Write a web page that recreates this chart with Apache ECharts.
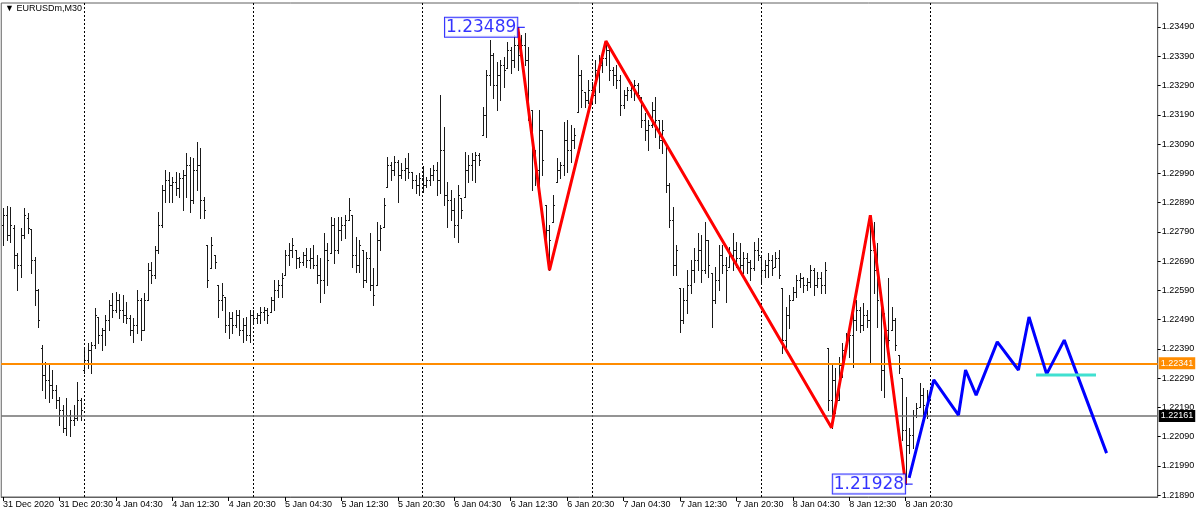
<!DOCTYPE html>
<html><head><meta charset="utf-8">
<script src="https://cdn.jsdelivr.net/npm/echarts@6/dist/echarts.min.js"></script>
<style>html,body{margin:0;padding:0;background:#fff}#c{width:1200px;height:516px}</style>
</head><body><div id="c"></div>
<script>
const chartTitle = '\u25BC EURUSDm,M30';
const sessionDays = ['31 Dec', '4 Jan', '5 Jan', '6 Jan', '7 Jan', '8 Jan', '9 Jan', '10 Jan'];
const firstHalfHourSlot = 25; // 31 Dec 12:30
const totalSlots = 328;
const xTickLabels = ['31 Dec 2020','31 Dec 20:30','4 Jan 04:30','4 Jan 12:30','4 Jan 20:30','5 Jan 04:30','5 Jan 12:30','5 Jan 20:30','6 Jan 04:30','6 Jan 12:30','6 Jan 20:30','7 Jan 04:30','7 Jan 12:30','7 Jan 20:30','8 Jan 04:30','8 Jan 12:30','8 Jan 20:30'];
const yTickValues = [1.21890,1.21990,1.22090,1.22190,1.22290,1.22390,1.22490,1.22590,1.22690,1.22790,1.22890,1.22990,1.23090,1.23190,1.23290,1.23390,1.23490];
const daySeparators = ['4 Jan 00:00','5 Jan 00:00','6 Jan 00:00','7 Jan 00:00','8 Jan 00:00','9 Jan 00:00'];

// OHLC [open, high, low, close]
const dec31 = [
[1.22813,1.22871,1.22745,1.22847],[1.22847,1.22878,1.22762,1.22779],[1.22779,1.22875,1.22755,1.22813],[1.22803,1.22813,1.22666,1.22711],
[1.22711,1.22718,1.22591,1.22677],[1.22677,1.22803,1.22636,1.22779],[1.22779,1.22871,1.22769,1.22847],[1.22837,1.22854,1.22786,1.22803],
[1.22800,1.22800,1.22649,1.22694],[1.22694,1.22704,1.22540,1.22591],[1.22591,1.22595,1.22465,1.22489],[1.22393,1.22403,1.22249,1.22301],
[1.22301,1.22345,1.22222,1.22284],[1.22284,1.22335,1.22208,1.22266],[1.22266,1.22318,1.22222,1.22249],[1.22249,1.22266,1.22188,1.22215],
[1.22215,1.22225,1.22130,1.22181],[1.22181,1.22198,1.22106,1.22120],[1.22120,1.22222,1.22096,1.22164],[1.22164,1.22181,1.22092,1.22147],
[1.22147,1.22198,1.22130,1.22154],[1.22154,1.22277,1.22147,1.22215],[1.22215,1.22222,1.22147,1.22181]
];
const jan4 = [
[1.22318,1.22396,1.22308,1.22352],[1.22352,1.22410,1.22325,1.22386],[1.22386,1.22413,1.22308,1.22403],[1.22403,1.22530,1.22393,1.22506],
[1.22499,1.22499,1.22410,1.22437],[1.22437,1.22461,1.22386,1.22454],[1.22454,1.22506,1.22403,1.22489],[1.22489,1.22557,1.22454,1.22540],
[1.22540,1.22581,1.22499,1.22523],[1.22523,1.22584,1.22516,1.22557],[1.22557,1.22577,1.22495,1.22523],[1.22523,1.22574,1.22482,1.22506],
[1.22506,1.22550,1.22478,1.22495],[1.22495,1.22506,1.22437,1.22454],[1.22454,1.22495,1.22413,1.22471],[1.22471,1.22591,1.22444,1.22557],
[1.22557,1.22564,1.22420,1.22454],[1.22454,1.22581,1.22454,1.22557],[1.22557,1.22683,1.22557,1.22659],[1.22659,1.22687,1.22615,1.22642],
[1.22642,1.22741,1.22632,1.22728],[1.22728,1.22858,1.22718,1.22813],[1.22813,1.22950,1.22806,1.22933],[1.22933,1.23001,1.22892,1.22967],
[1.22967,1.22994,1.22892,1.22950],[1.22950,1.22977,1.22892,1.22960],[1.22960,1.22994,1.22916,1.22940],[1.22940,1.22991,1.22909,1.22974],
[1.22974,1.23001,1.22864,1.22984],[1.22984,1.23059,1.22909,1.23018],[1.23018,1.23046,1.22858,1.22899],[1.22899,1.23042,1.22888,1.23001],
[1.23001,1.23097,1.22933,1.23018],[1.23018,1.23076,1.22837,1.22899],[1.22899,1.22909,1.22837,1.22864],[1.22745,1.22745,1.22601,1.22625],
[1.22666,1.22772,1.22666,1.22745],[1.22711,1.22711,1.22666,1.22687],[1.22608,1.22608,1.22499,1.22557],[1.22557,1.22615,1.22523,1.22574],
[1.22567,1.22567,1.22448,1.22471],[1.22471,1.22516,1.22427,1.22495],[1.22495,1.22516,1.22444,1.22471],[1.22471,1.22523,1.22465,1.22506],
[1.22506,1.22523,1.22437,1.22454],[1.22454,1.22495,1.22413,1.22471],[1.22471,1.22499,1.22420,1.22437],[1.22437,1.22523,1.22413,1.22506]
];
const jan5 = [
[1.22506,1.22523,1.22482,1.22495],[1.22495,1.22513,1.22478,1.22506],[1.22506,1.22533,1.22478,1.22516],[1.22516,1.22533,1.22489,1.22523],
[1.22523,1.22530,1.22478,1.22506],[1.22516,1.22567,1.22516,1.22557],[1.22557,1.22625,1.22523,1.22591],[1.22591,1.22625,1.22567,1.22608],
[1.22608,1.22649,1.22567,1.22632],[1.22642,1.22728,1.22642,1.22711],[1.22711,1.22752,1.22677,1.22728],[1.22728,1.22769,1.22704,1.22745],
[1.22728,1.22728,1.22666,1.22700],[1.22700,1.22704,1.22670,1.22687],[1.22687,1.22721,1.22677,1.22711],[1.22711,1.22735,1.22670,1.22694],
[1.22694,1.22735,1.22666,1.22700],[1.22700,1.22745,1.22666,1.22677],[1.22677,1.22711,1.22615,1.22642],[1.22642,1.22700,1.22550,1.22625],
[1.22625,1.22786,1.22581,1.22728],[1.22728,1.22752,1.22608,1.22694],[1.22718,1.22840,1.22718,1.22813],[1.22813,1.22837,1.22683,1.22728],
[1.22728,1.22840,1.22718,1.22796],[1.22796,1.22840,1.22762,1.22813],[1.22813,1.22847,1.22769,1.22830],[1.22830,1.22905,1.22830,1.22864],
[1.22847,1.22847,1.22670,1.22711],[1.22711,1.22772,1.22653,1.22677],[1.22677,1.22762,1.22653,1.22745],[1.22728,1.22728,1.22601,1.22625],
[1.22625,1.22721,1.22618,1.22700],[1.22700,1.22786,1.22591,1.22608],[1.22608,1.22666,1.22540,1.22574],[1.22608,1.22823,1.22608,1.22762],
[1.22762,1.22813,1.22728,1.22803],[1.22806,1.22905,1.22806,1.22882],[1.22943,1.23046,1.22943,1.23018],[1.23018,1.23028,1.22967,1.23001],
[1.23001,1.23049,1.22984,1.23028],[1.23028,1.23035,1.22892,1.22984],[1.22984,1.23025,1.22974,1.23001],[1.23001,1.23042,1.22967,1.23008],
[1.23008,1.23059,1.22974,1.22994],[1.22994,1.22994,1.22940,1.22967],[1.22967,1.22984,1.22923,1.22950],[1.22950,1.22991,1.22916,1.22974]
];
const jan6 = [
[1.22974,1.23015,1.22926,1.22950],[1.22950,1.22977,1.22943,1.22967],[1.22967,1.23008,1.22950,1.22984],[1.22984,1.23018,1.22967,1.23001],
[1.23001,1.23028,1.22916,1.22967],[1.22967,1.23257,1.22923,1.23069],[1.23069,1.23148,1.22882,1.22916],[1.22916,1.22960,1.22806,1.22899],
[1.22899,1.22933,1.22830,1.22864],[1.22864,1.22905,1.22772,1.22813],[1.22813,1.22950,1.22755,1.22916],[1.22905,1.22905,1.22837,1.22864],
[1.22909,1.23063,1.22909,1.23001],[1.23001,1.23052,1.22960,1.23018],[1.23018,1.23059,1.22967,1.23035],[1.23035,1.23063,1.22960,1.23052],
[1.23052,1.23059,1.23018,1.23035],[1.23121,1.23216,1.23121,1.23189],[1.23189,1.23343,1.23114,1.23326],[1.23326,1.23445,1.23292,1.23394],
[1.23394,1.23401,1.23247,1.23292],[1.23292,1.23370,1.23206,1.23326],[1.23326,1.23377,1.23240,1.23360],[1.23360,1.23387,1.23285,1.23343],
[1.23350,1.23439,1.23350,1.23411],[1.23411,1.23421,1.23333,1.23377],[1.23377,1.23462,1.23353,1.23428],[1.23428,1.23489,1.23343,1.23394],
[1.23394,1.23462,1.23394,1.23428],[1.23428,1.23469,1.23360,1.23377],[1.23377,1.23421,1.23172,1.23206],[1.23206,1.23206,1.22933,1.23069],
[1.23069,1.23069,1.22950,1.23001],[1.23001,1.23206,1.22933,1.23138],[1.23138,1.23138,1.22984,1.23035],[1.22882,1.22882,1.22745,1.22796],
[1.22796,1.22813,1.22659,1.22762],[1.22823,1.22916,1.22823,1.22882],[1.22960,1.23042,1.22960,1.23001],[1.23001,1.23028,1.22974,1.23018],
[1.23018,1.23165,1.22984,1.23104],[1.23104,1.23172,1.22994,1.23069],[1.23069,1.23155,1.23028,1.23104],[1.23104,1.23145,1.23076,1.23121],
[1.23199,1.23394,1.23199,1.23326],[1.23326,1.23343,1.23216,1.23275],[1.23268,1.23268,1.23216,1.23240],[1.23240,1.23309,1.23230,1.23275]
];
const jan7 = [
[1.23275,1.23302,1.23234,1.23257],[1.23257,1.23377,1.23230,1.23343],[1.23343,1.23394,1.23268,1.23360],[1.23360,1.23404,1.23336,1.23384],
[1.23384,1.23439,1.23360,1.23411],[1.23411,1.23421,1.23309,1.23343],[1.23343,1.23353,1.23292,1.23326],[1.23326,1.23360,1.23281,1.23309],
[1.23309,1.23326,1.23189,1.23223],[1.23223,1.23275,1.23213,1.23257],[1.23257,1.23285,1.23240,1.23275],[1.23275,1.23302,1.23251,1.23281],
[1.23281,1.23309,1.23240,1.23292],[1.23292,1.23298,1.23247,1.23257],[1.23251,1.23251,1.23148,1.23172],[1.23172,1.23196,1.23104,1.23138],
[1.23138,1.23172,1.23069,1.23155],[1.23155,1.23234,1.23148,1.23206],[1.23206,1.23251,1.23114,1.23172],[1.23172,1.23172,1.23076,1.23104],
[1.23104,1.23172,1.23059,1.23138],[1.23093,1.23093,1.22926,1.22950],[1.22950,1.22957,1.22806,1.22830],[1.22830,1.22875,1.22642,1.22677],
[1.22677,1.22745,1.22642,1.22728],[1.22598,1.22598,1.22448,1.22489],[1.22489,1.22598,1.22478,1.22557],[1.22557,1.22659,1.22513,1.22608],
[1.22608,1.22694,1.22581,1.22659],[1.22659,1.22735,1.22618,1.22694],[1.22694,1.22786,1.22659,1.22728],[1.22728,1.22779,1.22618,1.22659],
[1.22659,1.22823,1.22649,1.22762],[1.22762,1.22762,1.22636,1.22677],[1.22649,1.22649,1.22465,1.22557],[1.22557,1.22670,1.22547,1.22625],
[1.22625,1.22745,1.22591,1.22711],[1.22711,1.22745,1.22649,1.22677],[1.22677,1.22704,1.22550,1.22659],[1.22670,1.22738,1.22670,1.22711],
[1.22711,1.22786,1.22659,1.22728],[1.22728,1.22755,1.22670,1.22700],[1.22700,1.22752,1.22649,1.22677],[1.22677,1.22721,1.22649,1.22700],
[1.22700,1.22718,1.22649,1.22687],[1.22687,1.22694,1.22625,1.22666],[1.22666,1.22755,1.22659,1.22728],[1.22728,1.22769,1.22694,1.22711]
];
const jan8 = [
[1.22704,1.22704,1.22618,1.22659],[1.22659,1.22694,1.22636,1.22677],[1.22677,1.22718,1.22636,1.22694],[1.22694,1.22711,1.22642,1.22666],
[1.22670,1.22721,1.22670,1.22700],[1.22700,1.22728,1.22632,1.22642],[1.22598,1.22598,1.22376,1.22420],[1.22420,1.22533,1.22396,1.22506],
[1.22506,1.22574,1.22461,1.22557],[1.22557,1.22601,1.22557,1.22584],[1.22584,1.22642,1.22567,1.22625],[1.22625,1.22649,1.22601,1.22632],
[1.22632,1.22636,1.22584,1.22608],[1.22608,1.22632,1.22591,1.22618],[1.22618,1.22677,1.22601,1.22659],[1.22659,1.22666,1.22574,1.22608],
[1.22608,1.22653,1.22601,1.22632],[1.22632,1.22653,1.22581,1.22608],[1.22608,1.22687,1.22581,1.22659],[1.22393,1.22393,1.22181,1.22215],
[1.22215,1.22342,1.22121,1.22284],[1.22284,1.22325,1.22171,1.22215],[1.22215,1.22362,1.22215,1.22335],[1.22335,1.22410,1.22294,1.22386],
[1.22386,1.22444,1.22386,1.22420],[1.22420,1.22465,1.22362,1.22437],[1.22437,1.22513,1.22328,1.22489],[1.22489,1.22557,1.22454,1.22523],
[1.22523,1.22533,1.22448,1.22471],[1.22471,1.22547,1.22454,1.22506],[1.22506,1.22523,1.22465,1.22489],[1.22489,1.22847,1.22342,1.22728],
[1.22728,1.22823,1.22581,1.22659],[1.22659,1.22752,1.22465,1.22557],[1.22557,1.22557,1.22249,1.22318],[1.22318,1.22513,1.22225,1.22454],
[1.22454,1.22632,1.22362,1.22420],[1.22454,1.22533,1.22454,1.22489],[1.22489,1.22495,1.22386,1.22403],[1.22369,1.22369,1.22308,1.22325],
[1.22290,1.22290,1.22079,1.22113],[1.22113,1.22225,1.21928,1.22061],[1.22061,1.22120,1.22034,1.22096],[1.22096,1.22181,1.22051,1.22164],
[1.22164,1.22205,1.22157,1.22188],[1.22191,1.22273,1.22191,1.22232],[1.22232,1.22256,1.22157,1.22198],[1.22198,1.22249,1.22154,1.22161]
];

// annotations: [bar index, price]
const zigzagRed = [[146,1.23489],[155,1.22659],[171,1.23442],[235,1.22121],[246,1.22847],[256,1.21928]];
const projectionBlue = [[257,1.21949],[264,1.22284],[271,1.22164],[273,1.22318],[276,1.22232],[282,1.22414],[288,1.22318],[291,1.22499],[296,1.22304],[301,1.22420],[313,1.22034]];
const cyanLevel = [[293,1.22301],[310,1.22301]];
const priceLabels = [[146,1.23489],[256,1.21928]];
const orangeLevel = 1.22341;
const lastPrice = 1.22161;
const yMin = 1.21884, yMax = 1.23572;

// build categories (30-minute slots)
const categories = [];
let slot = firstHalfHourSlot;
let dayIdx = 0;
for (let i = 0; i < totalSlots; i++) {
  const h = Math.floor(slot / 2), m = slot % 2 ? '30' : '00';
  categories.push(sessionDays[dayIdx] + ' ' + String(h).padStart(2,'0') + ':' + m);
  slot++;
  if (slot >= 48) { slot = 0; dayIdx++; }
}
const bars = [].concat(dec31, jan4, jan5, jan6, jan7, jan8).map((b, i) => [i, b[0], b[1], b[2], b[3]]);

const font = 'Liberation Sans';
const tagLabel = (bg) => ({show: true, position: 'end', distance: 1, color: '#fff', backgroundColor: bg,
  padding: [2, 2, 1, 2], fontSize: 9, fontFamily: font});
const chart = echarts.init(document.getElementById('c'), null, {renderer: 'canvas'});
chart.setOption({
  animation: false,
  backgroundColor: '#fff',
  grid: {left: 1.2, right: 42.3, top: 3, bottom: 19, show: true, borderColor: '#606060', borderWidth: 1},
  graphic: [{type: 'text', left: 5, top: 4, style: {text: chartTitle, font: '9px "Liberation Sans"', fill: '#000'}}],
  xAxis: {
    type: 'category', data: categories, boundaryGap: true,
    axisLine: {show: true, lineStyle: {color: '#606060'}},
    axisTick: {show: true, alignWithLabel: true, length: 4, lineStyle: {color: '#000'},
      interval: (idx) => idx % 16 === 0 && idx / 16 < xTickLabels.length},
    axisLabel: {interval: (idx) => idx % 16 === 0 && idx / 16 < xTickLabels.length,
      showMinLabel: true,
      formatter: (v, idx) => xTickLabels[idx / 16] || '',
      align: 'left', margin: 3, fontSize: 9, fontFamily: font, color: '#000', hideOverlap: false},
    splitLine: {show: false}
  },
  yAxis: {
    type: 'value', position: 'right', min: yMin, max: yMax, scale: true,
    axisLine: {show: true, lineStyle: {color: '#606060'}},
    axisTick: {show: true, customValues: yTickValues, length: 3, lineStyle: {color: '#000'}},
    axisLabel: {customValues: yTickValues, formatter: (v) => v.toFixed(5), margin: 4, fontSize: 9, fontFamily: font, color: '#000'},
    splitLine: {show: false}
  },
  series: [
    {
      type: 'custom', data: bars, encode: {x: 0, y: [1,2,3,4]}, z: 2,
      renderItem: function (params, api) {
        const i = api.value(0);
        const pO = api.coord([i, api.value(1)]);
        const pH = api.coord([i, api.value(2)]);
        const pL = api.coord([i, api.value(3)]);
        const pC = api.coord([i, api.value(4)]);
        const x = Math.round(pH[0]) + 0.5;
        const yO = Math.round(pO[1]) + 0.5, yC = Math.round(pC[1]) + 0.5;
        const st = {stroke: '#1a1a1a', lineWidth: 1};
        return {type: 'group', children: [
          {type: 'line', shape: {x1: x, y1: Math.round(pH[1]), x2: x, y2: Math.round(pL[1]) + 1}, style: st},
          {type: 'line', shape: {x1: x - 1.5, y1: yO, x2: x - 0.5, y2: yO}, style: st},
          {type: 'line', shape: {x1: x + 0.5, y1: yC, x2: x + 1.5, y2: yC}, style: st}
        ]};
      },
      markLine: {
        silent: true, symbol: 'none', animation: false, precision: 5,
        label: {show: false},
        data: daySeparators.map(d => ({xAxis: d, lineStyle: {color: '#000', type: [2, 2], width: 1}, label: {show: false}})).concat([
          {yAxis: orangeLevel, lineStyle: {color: '#FF8C00', width: 2, type: 'solid'},
            label: Object.assign(tagLabel('#FF8C00'), {formatter: orangeLevel.toFixed(5)})},
          {yAxis: lastPrice, lineStyle: {color: '#707070', width: 1.5, type: 'solid'},
            label: Object.assign(tagLabel('#000'), {formatter: lastPrice.toFixed(5)})}
        ])
      }
    },
    {type: 'line', data: zigzagRed, z: 5, symbol: 'none', lineStyle: {color: '#FF0000', width: 3}},
    {type: 'line', data: projectionBlue, z: 5, symbol: 'none', lineStyle: {color: '#0000FF', width: 3}},
    {type: 'line', data: cyanLevel, z: 5, symbol: 'none', lineStyle: {color: '#40E0D0', width: 3}},
    {type: 'line', data: [[priceLabels[0][0], priceLabels[0][1]], [priceLabels[0][0] + 2, priceLabels[0][1]]], z: 6, symbol: 'none', lineStyle: {color: '#0000FF', width: 1}},
    {type: 'line', data: [[priceLabels[1][0], priceLabels[1][1]], [priceLabels[1][0] + 2, priceLabels[1][1]]], z: 6, symbol: 'none', lineStyle: {color: '#0000FF', width: 1}},
    {
      type: 'scatter', data: priceLabels, symbolSize: 1, itemStyle: {color: 'rgba(0,0,0,0)'}, z: 7,
      label: {show: true, position: 'left', distance: 0, formatter: (p) => p.value[1].toFixed(5),
        color: '#0000FF', fontSize: 17, fontFamily: 'DejaVu Sans', backgroundColor: '#fff', borderColor: '#0000FF', borderWidth: 1, padding: [2, 1, 0, 1]}
    }
  ]
});
</script></body></html>
